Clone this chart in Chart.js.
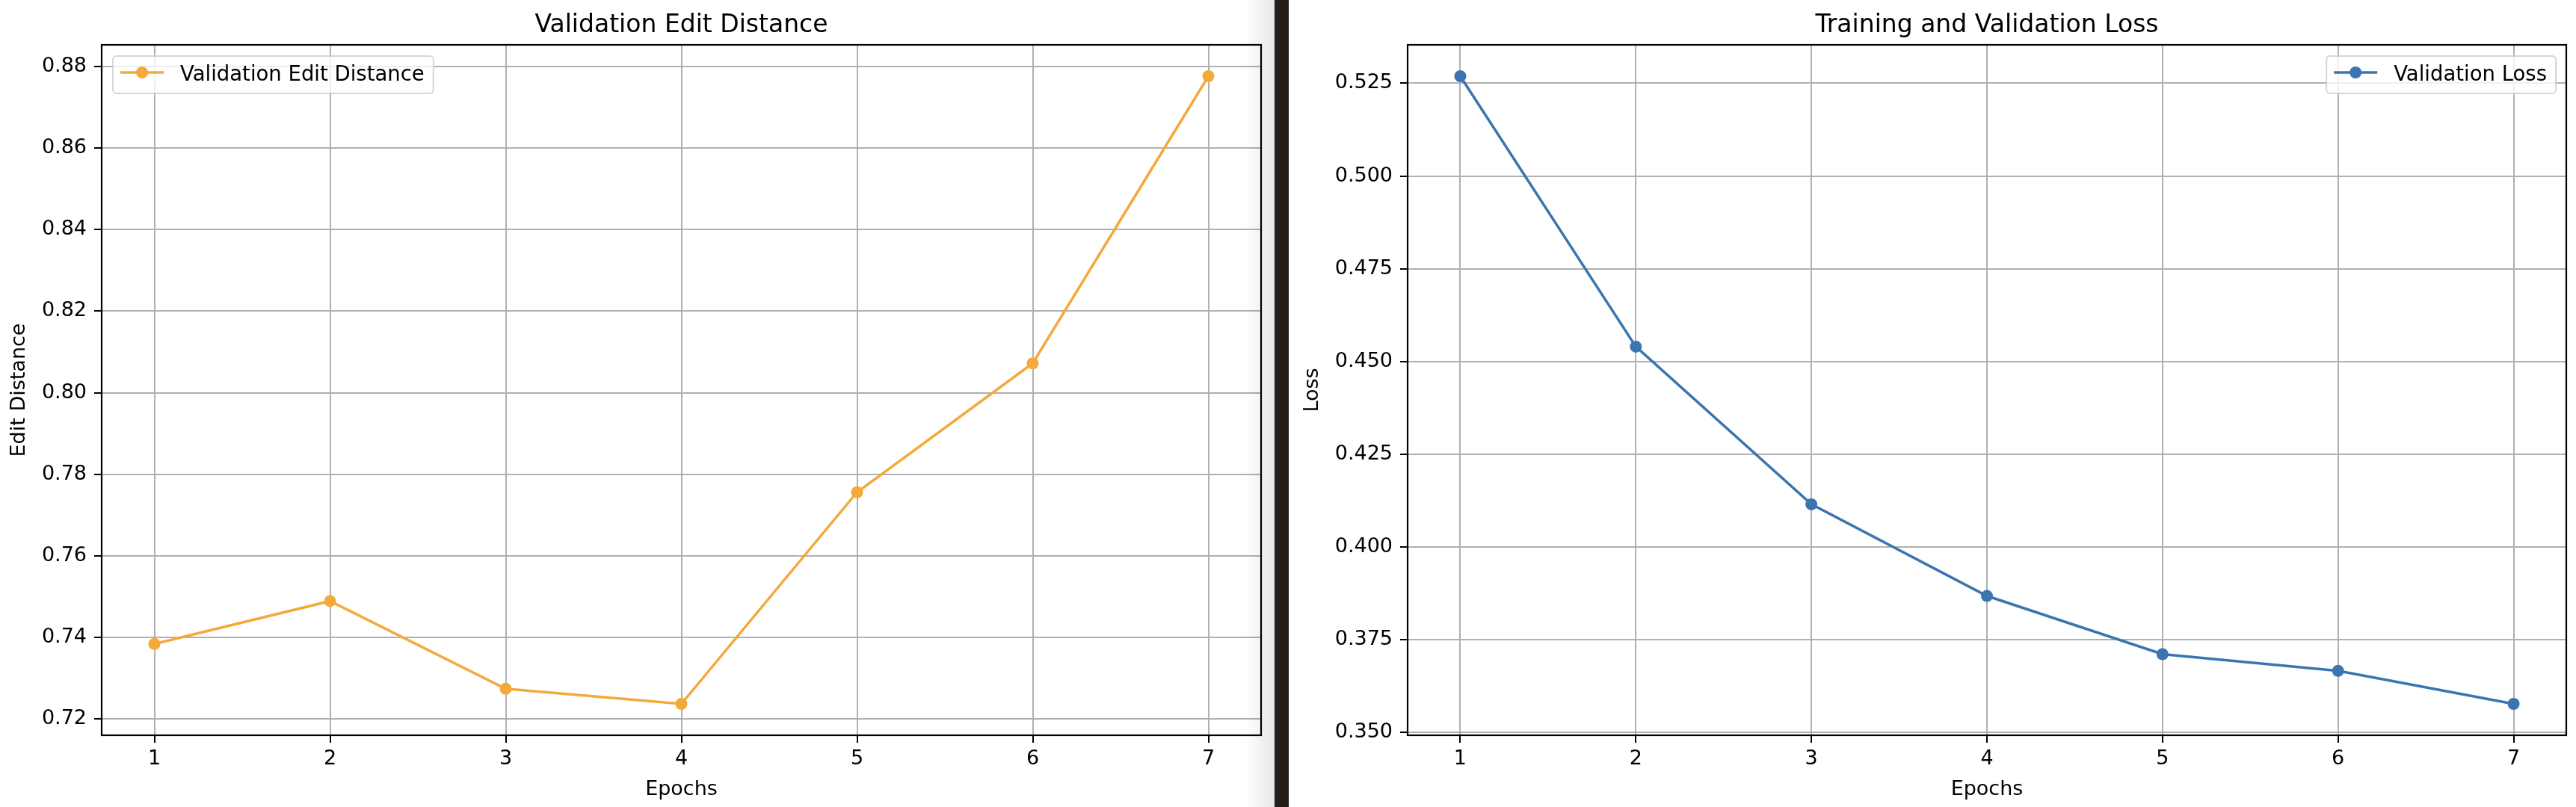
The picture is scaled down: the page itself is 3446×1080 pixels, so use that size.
<!DOCTYPE html>
<html>
<head>
<meta charset="utf-8">
<script src="https://cdn.jsdelivr.net/npm/chart.js@4/dist/chart.umd.min.js"></script>
<style>
  html, body { margin: 0; padding: 0; }
  body { width: 3446px; height: 1080px; background: #231e19; position: relative; overflow: hidden; }
  .panel { position: absolute; top: 0; height: 1080px; background: #ffffff; }
  #leftPanel { left: 0; width: 1705px; }
  #rightPanel { left: 1724px; width: 1722px; }
  #shade { position: absolute; left: 1665px; top: 0; width: 40px; height: 1080px;
           background: linear-gradient(to right, rgba(0,0,0,0), rgba(0,0,0,0.09)); pointer-events: none; }
  canvas { position: absolute; left: 0; top: 0; }
</style>
</head>
<body>
<div class="panel" id="leftPanel"><canvas id="c1" width="1705" height="1080"></canvas></div>
<div id="shade"></div>
<div class="panel" id="rightPanel"><canvas id="c2" width="1722" height="1080"></canvas></div>
<script>
// ---- data ----
const epochs = [1, 2, 3, 4, 5, 6, 7];
const editDistance = [0.7384, 0.7489, 0.7274, 0.7237, 0.7756, 0.8072, 0.8776];
const validationLoss = [0.5269, 0.4540, 0.4115, 0.3868, 0.3711, 0.3666, 0.3577];
const xTickValues = [1, 2, 3, 4, 5, 6, 7];
const xTickLabels = ['1', '2', '3', '4', '5', '6', '7'];
const editTickValues = [0.72, 0.74, 0.76, 0.78, 0.80, 0.82, 0.84, 0.86, 0.88];
const editTickLabels = ['0.72', '0.74', '0.76', '0.78', '0.80', '0.82', '0.84', '0.86', '0.88'];
const lossTickValues = [0.350, 0.375, 0.400, 0.425, 0.450, 0.475, 0.500, 0.525];
const lossTickLabels = ['0.350', '0.375', '0.400', '0.425', '0.450', '0.475', '0.500', '0.525'];

const FONT = '"DejaVu Sans", "Liberation Sans", sans-serif';

function limits(values) {
  const lo = Math.min(...values), hi = Math.max(...values);
  const m = (hi - lo) * 0.05;
  return [lo - m, hi + m];
}

const decor = {
  id: 'decor',
  afterDraw(chart, args, opts) {
    const ctx = chart.ctx;
    const a = chart.chartArea;
    ctx.save();
    // spines
    ctx.strokeStyle = '#000';
    ctx.lineWidth = 2.2;
    ctx.strokeRect(a.left, a.top, a.right - a.left, a.bottom - a.top);
    // title
    ctx.fillStyle = '#000';
    ctx.font = '33px ' + FONT;
    ctx.textAlign = 'center';
    ctx.textBaseline = 'alphabetic';
    ctx.fillText(opts.title, (a.left + a.right) / 2, 43);
    // legend
    ctx.font = '27.5px ' + FONT;
    const tw = ctx.measureText(opts.label).width;
    const bw = 102 + tw, bh = 50;
    const bx = opts.legendPos === 'left' ? a.left + 15 : a.right - 14 - bw;
    const by = a.top + 15;
    ctx.beginPath();
    ctx.roundRect(bx, by, bw, bh, 5);
    ctx.fillStyle = 'rgba(255,255,255,0.8)';
    ctx.fill();
    ctx.strokeStyle = 'rgba(204,204,204,0.8)';
    ctx.lineWidth = 2;
    ctx.stroke();
    const hy = by + 22;
    ctx.strokeStyle = opts.color;
    ctx.lineWidth = 3.5;
    ctx.beginPath();
    ctx.moveTo(bx + 10, hy);
    ctx.lineTo(bx + 68, hy);
    ctx.stroke();
    ctx.fillStyle = opts.color;
    ctx.beginPath();
    ctx.arc(bx + 39, hy, 8, 0, Math.PI * 2);
    ctx.fill();
    ctx.fillStyle = '#000';
    ctx.textAlign = 'left';
    ctx.textBaseline = 'alphabetic';
    ctx.fillText(opts.label, bx + 90, by + 33);
    ctx.restore();
  }
};

function makeChart(id, cfg) {
  const [ymin, ymax] = limits(cfg.values);
  const [xmin, xmax] = limits(epochs);
  return new Chart(document.getElementById(id), {
    type: 'line',
    data: {
      datasets: [{
        label: cfg.label,
        data: epochs.map((e, i) => ({ x: e, y: cfg.values[i] })),
        borderColor: cfg.color,
        backgroundColor: cfg.color,
        pointBackgroundColor: cfg.color,
        pointBorderWidth: 0,
        pointRadius: 8,
        borderWidth: 3.5,
        tension: 0,
        fill: false
      }]
    },
    options: {
      responsive: false,
      animation: false,
      devicePixelRatio: 1,
      layout: { padding: { left: 0, top: 60, right: cfg.padRight, bottom: 0 } },
      plugins: {
        legend: { display: false },
        title: { display: false },
        tooltip: { enabled: false },
        decor: { title: cfg.title, label: cfg.label, color: cfg.color, legendPos: cfg.legendPos }
      },
      scales: {
        x: {
          type: 'linear',
          min: xmin, max: xmax,
          afterBuildTicks: s => { s.ticks = xTickValues.map(v => ({ value: v })); },
          afterFit: s => { s.height = 96; },
          ticks: {
            callback: (v) => xTickLabels[xTickValues.indexOf(v)],
            font: { family: FONT, size: 27 },
            color: '#000',
            padding: 6,
            maxRotation: 0
          },
          grid: { color: '#b0b0b0', lineWidth: 2, drawTicks: true, tickLength: 10, tickColor: '#000', tickWidth: 2 },
          border: { display: false },
          title: { display: true, text: 'Epochs', font: { family: FONT, size: 27 }, color: '#000', padding: { top: 0, bottom: 7 } }
        },
        y: {
          type: 'linear',
          min: ymin, max: ymax,
          afterBuildTicks: s => { s.ticks = cfg.tickValues.map(v => ({ value: v })); },
          afterFit: s => { s.width = cfg.yWidth; },
          ticks: {
            callback: (v) => cfg.tickLabels[cfg.tickValues.findIndex(t => Math.abs(t - v) < 1e-9)],
            font: { family: FONT, size: 27 },
            color: '#000',
            padding: 10
          },
          grid: { color: '#b0b0b0', lineWidth: 2, drawTicks: true, tickLength: 10, tickColor: '#000', tickWidth: 2 },
          border: { display: false },
          title: { display: true, text: cfg.yTitle, font: { family: FONT, size: 27 }, color: '#000', padding: { top: cfg.yTitlePad, bottom: 0 } }
        }
      }
    },
    plugins: [decor]
  });
}

makeChart('c1', {
  values: editDistance, label: 'Validation Edit Distance', title: 'Validation Edit Distance',
  color: '#F4A93B', tickValues: editTickValues, tickLabels: editTickLabels,
  yWidth: 136, padRight: 18, yTitle: 'Edit Distance', yTitlePad: 10, legendPos: 'left'
});
makeChart('c2', {
  values: validationLoss, label: 'Validation Loss', title: 'Training and Validation Loss',
  color: '#3A75B0', tickValues: lossTickValues, tickLabels: lossTickLabels,
  yWidth: 159, padRight: 13, yTitle: 'Loss', yTitlePad: 16, legendPos: 'right'
});
</script>
</body>
</html>
